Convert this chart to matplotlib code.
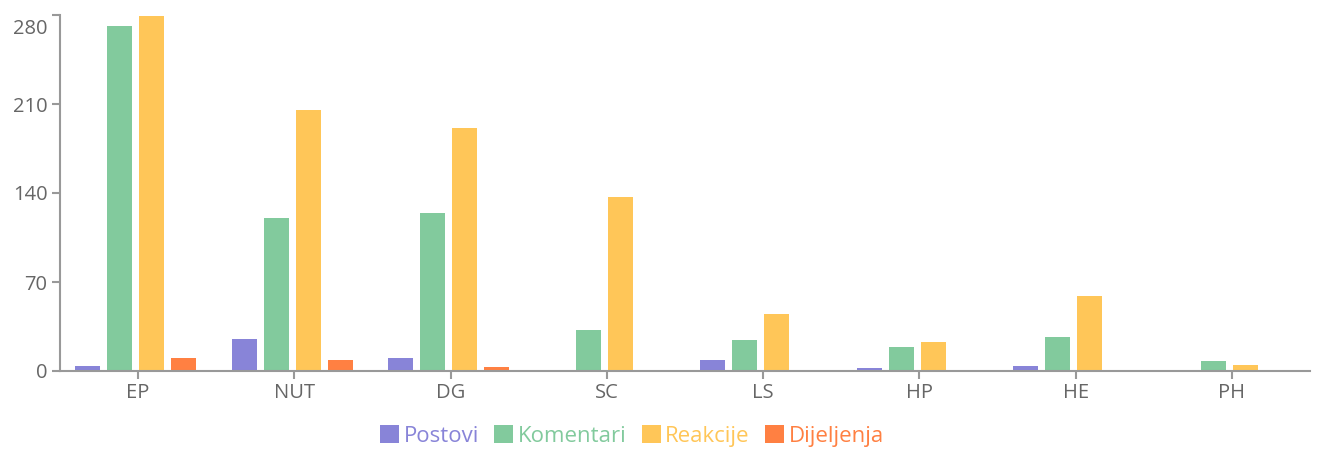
import matplotlib
matplotlib.use("Agg")
import matplotlib.pyplot as plt
import matplotlib.transforms as mtransforms
import numpy as np

categories = ["EP", "NUT", "DG", "SC", "LS", "HP", "HE", "PH"]
postovi = [4, 25, 10, 1, 9, 2, 4, 1]
komentari = [271, 120, 124, 32, 24, 19, 27, 8]
reakcije = [279, 205, 191, 137, 45, 23, 59, 5]
dijeljenja = [10, 9, 3, 0, 0, 1, 0, 0]
series_names = ["Postovi", "Komentari", "Reakcije", "Dijeljenja"]
colors = ["#8884d8", "#82ca9d", "#ffc658", "#ff8042"]
y_ticks = [0, 70, 140, 210, 280]

plt.rcParams['font.family'] = ['Open Sans', 'DejaVu Sans']

fig = plt.figure(figsize=(13.19, 4.5), dpi=100)
ax = fig.add_axes([60/1319, 1-371/450, 1250/1319, (371-15)/450])

data = [postovi, komentari, reakcije, dijeljenja]
x = np.arange(len(categories))
bw = 25/156.25
step = 32/156.25
for i, (vals, c, name) in enumerate(zip(data, colors, series_names)):
    ax.bar(x + (i-1.5)*step - 0.015, vals, width=bw, color=c, label=name,
           linewidth=0)

ax.set_xlim(-0.5, len(categories)-0.5)
ax.set_ylim(0, 280)
ax.set_xticks(x)
ax.set_xticklabels(categories)
ax.set_yticks(y_ticks)
ax.set_yticklabels([str(v) for v in y_ticks])

for s in ["top", "right"]:
    ax.spines[s].set_visible(False)
for s in ["left", "bottom"]:
    ax.spines[s].set_color("#999999")
    ax.spines[s].set_linewidth(1.5)
ax.tick_params(axis="both", colors="#999999", length=6, width=1.5,
               labelcolor="#666666", labelsize=14.5)
ax.tick_params(axis="x", pad=3)
ax.tick_params(axis="y", pad=3)

# nudge top tick label down like the original
for lbl in ax.get_yticklabels():
    if lbl.get_text() == "280":
        lbl.set_transform(lbl.get_transform() + mtransforms.ScaledTranslation(0, -12/100, fig.dpi_scale_trans))

leg = ax.legend(loc="center", bbox_to_anchor=(632/1319, 1-436/450),
                bbox_transform=fig.transFigure, ncol=4, frameon=False,
                fontsize=16, handlelength=0.85, handleheight=0.85,
                handletextpad=0.2, columnspacing=0.7)
for txt, c in zip(leg.get_texts(), colors):
    txt.set_color(c)

fig.savefig("out.png", dpi=100)
